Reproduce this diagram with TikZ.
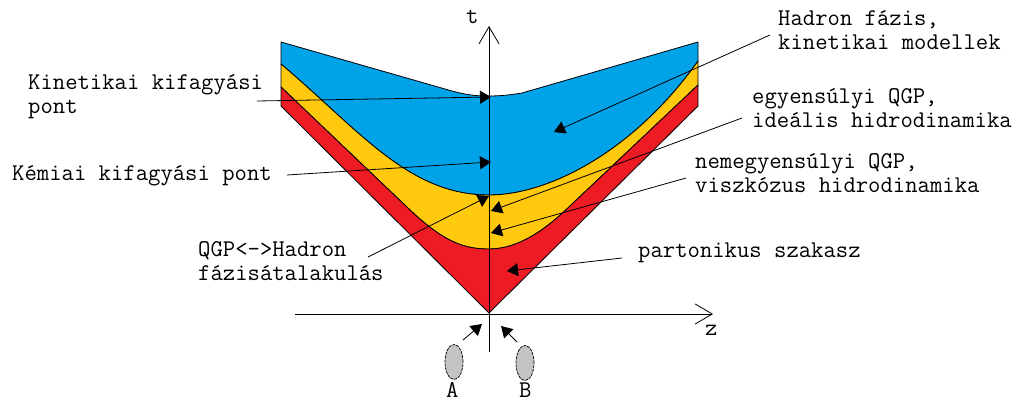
\documentclass[tikz,border=0pt]{standalone}
\usepackage{fontspec}
\usetikzlibrary{arrows.meta,shapes.geometric}
\definecolor{cblue}{RGB}{0,162,232}
\definecolor{cyellow}{RGB}{255,201,14}
\definecolor{cred}{RGB}{237,28,36}
\definecolor{cgray}{RGB}{195,195,195}
\begin{document}
\begin{tikzpicture}[x=1pt,y=-1pt,
  lab/.style={font=\ttfamily\fontsize{24}{24}\selectfont, inner sep=0pt, anchor=base west, align=left},
  conn/.style={line width=0.8pt, -{Triangle[length=11pt,width=13pt]}},
  band/.style={draw=black, line width=0.8pt, line join=round},
  axisline/.style={line width=0.8pt, -{Straight Barb[length=17pt,width=20pt]}},
  beam/.style={ellipse, fill=cgray, draw=black, line width=0.7pt, dash pattern=on 3pt off 1pt, minimum width=18pt, minimum height=35pt, inner sep=0pt}]
\useasboundingbox (0,0) rectangle (1021,401);
% blue band
\path[band, fill=cblue] (281,42) -- (445,89) .. controls (468,96) and (480,96) .. (489,96)
  .. controls (500,96) and (510,95) .. (522,93) -- (698,42) -- (698,61)
  .. controls (635,150) and (550,195) .. (489,195)
  .. controls (409,195) and (361,132) .. (281,64) -- cycle;
% yellow band
\path[band, fill=cyellow] (281,64) .. controls (361,132) and (409,195) .. (489,195)
  .. controls (550,195) and (635,150) .. (698,61) -- (698,85) -- (570,206)
  .. controls (547,228) and (520,249) .. (489,249)
  .. controls (465,249) and (445,243) .. (410,210) -- (281,87) -- cycle;
% red band
\path[band, fill=cred] (281,87) -- (410,210) .. controls (445,243) and (465,249) .. (489,249)
  .. controls (520,249) and (547,228) .. (570,206) -- (698,85) -- (698,106)
  -- (489,313) -- (281,106) -- cycle;
% labels (anchor at the baseline of the last line)
\node[lab] (kin) at (28,114) {Kinetikai kifagyási\\pont};
\node[lab] (kem) at (12,181) {Kémiai kifagyási pont};
\node[lab] (qgp) at (198,280) {QGP<->Hadron\\fázisátalakulás};
\node[lab] (had) at (778,50) {Hadron fázis,\\kinetikai modellek};
\node[lab] (egy) at (752,128) {egyensúlyi QGP,\\ideális hidrodinamika};
\node[lab] (nem) at (695,193) {nemegyensúlyi QGP,\\viszkózus hidrodinamika};
\node[lab] (par) at (638,257) {partonikus szakasz};
\node[lab] (tl) at (466,24) {t};
\node[lab] (zl) at (705,335) {z};
\node[lab] (al) at (446,397) {A};
\node[lab] (bl) at (519,397) {B};
% beams
\node[beam] (ea) at (454,362) {};
\node[beam] (eb) at (525,363) {};
% connector coordinates
\coordinate (kinS) at (257,101); \coordinate (kinT) at (491,97);
\coordinate (kemS) at (287,175); \coordinate (kemT) at (491,162);
\coordinate (qgpS) at (368,257); \coordinate (qgpT) at (489,196);
\coordinate (hadS) at (770,35);  \coordinate (hadT) at (554,132);
\coordinate (egyS) at (742,118); \coordinate (egyT) at (491,211);
\coordinate (nemS) at (686,178); \coordinate (nemT) at (491,233);
\coordinate (parS) at (622,258); \coordinate (parT) at (507,271);
\coordinate (aS) at (463,340); \coordinate (aT) at (482,324);
\coordinate (bS) at (517,342); \coordinate (bT) at (501,326);
\draw[conn] (kinS) -- (kinT);
\draw[conn] (kemS) -- (kemT);
\draw[conn] (qgpS) -- (qgpT);
\draw[conn] (hadS) -- (hadT);
\draw[conn] (egyS) -- (egyT);
\draw[conn] (nemS) -- (nemT);
\draw[conn] (parS) -- (parT);
\draw[conn] (aS) -- (aT);
\draw[conn] (bS) -- (bT);
% axes
\coordinate (o) at (489,314);
\coordinate (xs) at (295,314); \coordinate (xe) at (713,314);
\coordinate (ys) at (489,352); \coordinate (ye) at (489,26);
\draw[axisline] (xs) -- (xe);
\draw[axisline] (ys) -- (ye);
\end{tikzpicture}
\end{document}
